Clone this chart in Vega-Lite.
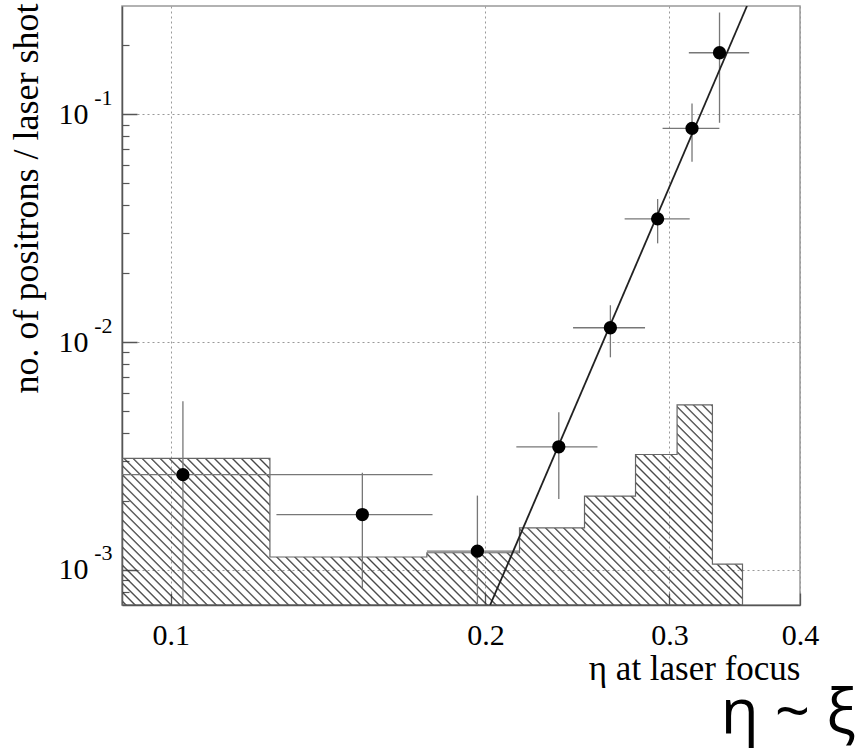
{
"$schema":"https://vega.github.io/schema/vega-lite/v6.json",
"width":678,"height":599,
"autosize":{"type":"none"},
"padding":{"left":122,"top":6,"right":56,"bottom":146},
"background":"white",
"title":{"text":"η ~ ξ","orient":"bottom","anchor":"end","font":"Open Sans","fontSize":62,"fontWeight":"normal","color":"#000","dx":37,"offset":-2},
"config":{"view":{"stroke":"#999","strokeWidth":1.5},"axis":{"labelColor":"#000","titleColor":"#000","titleFontWeight":"normal"}},
"datasets":{
"hist":[{"x":0.0898,"h":0.00309},{"x":0.1244,"h":0.00114},{"x":0.1758,"h":0.00119},{"x":0.2156,"h":0.00153},{"x":0.2488,"h":0.00211},{"x":0.2784,"h":0.00321},{"x":0.3051,"h":0.0053},{"x":0.3298,"h":0.00106},{"x":0.3524,"h":0.00106}],
"pts":[
{"x":0.1027,"y":0.00262,"xlo":0.085,"xhi":0.178,"ylo":0.0006,"yhi":0.0055},
{"x":0.1525,"y":0.00175,"xlo":0.1262,"xhi":0.178,"ylo":0.00083,"yhi":0.00267},
{"x":0.1965,"y":0.00121,"xlo":0.1758,"xhi":0.2156,"ylo":0.0006,"yhi":0.00212},
{"x":0.2351,"y":0.00347,"xlo":0.2141,"xhi":0.256,"ylo":0.00205,"yhi":0.00492},
{"x":0.2634,"y":0.01155,"xlo":0.2426,"xhi":0.2843,"ylo":0.00857,"yhi":0.0145},
{"x":0.2923,"y":0.0347,"xlo":0.2718,"xhi":0.3137,"ylo":0.0271,"yhi":0.0424},
{"x":0.3153,"y":0.0866,"xlo":0.2955,"xhi":0.3349,"ylo":0.0618,"yhi":0.1114},
{"x":0.335,"y":0.1858,"xlo":0.3131,"xhi":0.3576,"ylo":0.0916,"yhi":0.279}],
"fit":[{"x":0.2021,"y":0.000702},{"x":0.3559,"y":0.298}]
},
"resolve":{"axis":{"y":"independent","x":"independent"}},
"layer":[
{"data":{"name":"hist"},
"mark":{"type":"area","interpolate":"step-after","clip":true,"stroke":"#666","strokeWidth":1.2,
"fill":{"gradient":"linear","x1":0,"y1":1,"x2":1.198,"y2":0.6138,"stops":[
{"offset":0.003,"color":"transparent"},{"offset":0.005,"color":"#444"},{"offset":0.007,"color":"transparent"},
{"offset":0.014,"color":"transparent"},{"offset":0.016,"color":"#444"},{"offset":0.018,"color":"transparent"},
{"offset":0.025,"color":"transparent"},{"offset":0.027,"color":"#444"},{"offset":0.029,"color":"transparent"},
{"offset":0.036,"color":"transparent"},{"offset":0.038,"color":"#444"},{"offset":0.040,"color":"transparent"},
{"offset":0.047,"color":"transparent"},{"offset":0.049,"color":"#444"},{"offset":0.051,"color":"transparent"},
{"offset":0.058,"color":"transparent"},{"offset":0.060,"color":"#444"},{"offset":0.062,"color":"transparent"},
{"offset":0.069,"color":"transparent"},{"offset":0.071,"color":"#444"},{"offset":0.073,"color":"transparent"},
{"offset":0.080,"color":"transparent"},{"offset":0.082,"color":"#444"},{"offset":0.084,"color":"transparent"},
{"offset":0.091,"color":"transparent"},{"offset":0.093,"color":"#444"},{"offset":0.095,"color":"transparent"},
{"offset":0.102,"color":"transparent"},{"offset":0.104,"color":"#444"},{"offset":0.106,"color":"transparent"},
{"offset":0.113,"color":"transparent"},{"offset":0.115,"color":"#444"},{"offset":0.117,"color":"transparent"},
{"offset":0.124,"color":"transparent"},{"offset":0.126,"color":"#444"},{"offset":0.128,"color":"transparent"},
{"offset":0.135,"color":"transparent"},{"offset":0.137,"color":"#444"},{"offset":0.139,"color":"transparent"},
{"offset":0.146,"color":"transparent"},{"offset":0.148,"color":"#444"},{"offset":0.150,"color":"transparent"},
{"offset":0.157,"color":"transparent"},{"offset":0.159,"color":"#444"},{"offset":0.161,"color":"transparent"},
{"offset":0.168,"color":"transparent"},{"offset":0.170,"color":"#444"},{"offset":0.172,"color":"transparent"},
{"offset":0.179,"color":"transparent"},{"offset":0.181,"color":"#444"},{"offset":0.183,"color":"transparent"},
{"offset":0.190,"color":"transparent"},{"offset":0.192,"color":"#444"},{"offset":0.194,"color":"transparent"},
{"offset":0.201,"color":"transparent"},{"offset":0.203,"color":"#444"},{"offset":0.205,"color":"transparent"},
{"offset":0.212,"color":"transparent"},{"offset":0.214,"color":"#444"},{"offset":0.216,"color":"transparent"},
{"offset":0.223,"color":"transparent"},{"offset":0.225,"color":"#444"},{"offset":0.227,"color":"transparent"},
{"offset":0.234,"color":"transparent"},{"offset":0.236,"color":"#444"},{"offset":0.238,"color":"transparent"},
{"offset":0.245,"color":"transparent"},{"offset":0.247,"color":"#444"},{"offset":0.249,"color":"transparent"},
{"offset":0.256,"color":"transparent"},{"offset":0.258,"color":"#444"},{"offset":0.260,"color":"transparent"},
{"offset":0.267,"color":"transparent"},{"offset":0.269,"color":"#444"},{"offset":0.271,"color":"transparent"},
{"offset":0.278,"color":"transparent"},{"offset":0.280,"color":"#444"},{"offset":0.282,"color":"transparent"},
{"offset":0.289,"color":"transparent"},{"offset":0.291,"color":"#444"},{"offset":0.293,"color":"transparent"},
{"offset":0.300,"color":"transparent"},{"offset":0.302,"color":"#444"},{"offset":0.304,"color":"transparent"},
{"offset":0.311,"color":"transparent"},{"offset":0.313,"color":"#444"},{"offset":0.315,"color":"transparent"},
{"offset":0.322,"color":"transparent"},{"offset":0.324,"color":"#444"},{"offset":0.326,"color":"transparent"},
{"offset":0.333,"color":"transparent"},{"offset":0.335,"color":"#444"},{"offset":0.337,"color":"transparent"},
{"offset":0.344,"color":"transparent"},{"offset":0.346,"color":"#444"},{"offset":0.348,"color":"transparent"},
{"offset":0.355,"color":"transparent"},{"offset":0.357,"color":"#444"},{"offset":0.359,"color":"transparent"},
{"offset":0.366,"color":"transparent"},{"offset":0.368,"color":"#444"},{"offset":0.370,"color":"transparent"},
{"offset":0.377,"color":"transparent"},{"offset":0.379,"color":"#444"},{"offset":0.381,"color":"transparent"},
{"offset":0.388,"color":"transparent"},{"offset":0.390,"color":"#444"},{"offset":0.392,"color":"transparent"},
{"offset":0.399,"color":"transparent"},{"offset":0.401,"color":"#444"},{"offset":0.403,"color":"transparent"},
{"offset":0.410,"color":"transparent"},{"offset":0.412,"color":"#444"},{"offset":0.414,"color":"transparent"},
{"offset":0.421,"color":"transparent"},{"offset":0.423,"color":"#444"},{"offset":0.425,"color":"transparent"},
{"offset":0.432,"color":"transparent"},{"offset":0.434,"color":"#444"},{"offset":0.436,"color":"transparent"},
{"offset":0.443,"color":"transparent"},{"offset":0.445,"color":"#444"},{"offset":0.447,"color":"transparent"},
{"offset":0.454,"color":"transparent"},{"offset":0.456,"color":"#444"},{"offset":0.458,"color":"transparent"},
{"offset":0.465,"color":"transparent"},{"offset":0.467,"color":"#444"},{"offset":0.469,"color":"transparent"},
{"offset":0.476,"color":"transparent"},{"offset":0.478,"color":"#444"},{"offset":0.480,"color":"transparent"},
{"offset":0.487,"color":"transparent"},{"offset":0.489,"color":"#444"},{"offset":0.491,"color":"transparent"},
{"offset":0.498,"color":"transparent"},{"offset":0.500,"color":"#444"},{"offset":0.502,"color":"transparent"},
{"offset":0.509,"color":"transparent"},{"offset":0.511,"color":"#444"},{"offset":0.513,"color":"transparent"},
{"offset":0.520,"color":"transparent"},{"offset":0.522,"color":"#444"},{"offset":0.524,"color":"transparent"},
{"offset":0.531,"color":"transparent"},{"offset":0.533,"color":"#444"},{"offset":0.535,"color":"transparent"},
{"offset":0.542,"color":"transparent"},{"offset":0.544,"color":"#444"},{"offset":0.546,"color":"transparent"},
{"offset":0.553,"color":"transparent"},{"offset":0.555,"color":"#444"},{"offset":0.557,"color":"transparent"},
{"offset":0.564,"color":"transparent"},{"offset":0.566,"color":"#444"},{"offset":0.568,"color":"transparent"},
{"offset":0.575,"color":"transparent"},{"offset":0.577,"color":"#444"},{"offset":0.579,"color":"transparent"},
{"offset":0.586,"color":"transparent"},{"offset":0.588,"color":"#444"},{"offset":0.590,"color":"transparent"},
{"offset":0.597,"color":"transparent"},{"offset":0.599,"color":"#444"},{"offset":0.601,"color":"transparent"},
{"offset":0.608,"color":"transparent"},{"offset":0.610,"color":"#444"},{"offset":0.612,"color":"transparent"},
{"offset":0.619,"color":"transparent"},{"offset":0.621,"color":"#444"},{"offset":0.623,"color":"transparent"},
{"offset":0.630,"color":"transparent"},{"offset":0.632,"color":"#444"},{"offset":0.634,"color":"transparent"},
{"offset":0.641,"color":"transparent"},{"offset":0.643,"color":"#444"},{"offset":0.645,"color":"transparent"},
{"offset":0.652,"color":"transparent"},{"offset":0.654,"color":"#444"},{"offset":0.656,"color":"transparent"},
{"offset":0.663,"color":"transparent"},{"offset":0.665,"color":"#444"},{"offset":0.667,"color":"transparent"},
{"offset":0.674,"color":"transparent"},{"offset":0.676,"color":"#444"},{"offset":0.678,"color":"transparent"},
{"offset":0.685,"color":"transparent"},{"offset":0.687,"color":"#444"},{"offset":0.689,"color":"transparent"},
{"offset":0.696,"color":"transparent"},{"offset":0.698,"color":"#444"},{"offset":0.700,"color":"transparent"},
{"offset":0.707,"color":"transparent"},{"offset":0.709,"color":"#444"},{"offset":0.711,"color":"transparent"},
{"offset":0.718,"color":"transparent"},{"offset":0.720,"color":"#444"},{"offset":0.722,"color":"transparent"},
{"offset":0.729,"color":"transparent"},{"offset":0.731,"color":"#444"},{"offset":0.733,"color":"transparent"},
{"offset":0.740,"color":"transparent"},{"offset":0.742,"color":"#444"},{"offset":0.744,"color":"transparent"},
{"offset":0.751,"color":"transparent"},{"offset":0.753,"color":"#444"},{"offset":0.755,"color":"transparent"},
{"offset":0.762,"color":"transparent"},{"offset":0.764,"color":"#444"},{"offset":0.766,"color":"transparent"},
{"offset":0.773,"color":"transparent"},{"offset":0.775,"color":"#444"},{"offset":0.777,"color":"transparent"},
{"offset":0.784,"color":"transparent"},{"offset":0.786,"color":"#444"},{"offset":0.788,"color":"transparent"},
{"offset":0.795,"color":"transparent"},{"offset":0.797,"color":"#444"},{"offset":0.799,"color":"transparent"},
{"offset":0.806,"color":"transparent"},{"offset":0.808,"color":"#444"},{"offset":0.810,"color":"transparent"},
{"offset":0.817,"color":"transparent"},{"offset":0.819,"color":"#444"},{"offset":0.821,"color":"transparent"},
{"offset":0.828,"color":"transparent"},{"offset":0.830,"color":"#444"},{"offset":0.832,"color":"transparent"},
{"offset":0.839,"color":"transparent"},{"offset":0.841,"color":"#444"},{"offset":0.843,"color":"transparent"},
{"offset":0.850,"color":"transparent"},{"offset":0.852,"color":"#444"},{"offset":0.854,"color":"transparent"},
{"offset":0.861,"color":"transparent"},{"offset":0.863,"color":"#444"},{"offset":0.865,"color":"transparent"},
{"offset":0.872,"color":"transparent"},{"offset":0.874,"color":"#444"},{"offset":0.876,"color":"transparent"},
{"offset":0.883,"color":"transparent"},{"offset":0.885,"color":"#444"},{"offset":0.887,"color":"transparent"},
{"offset":0.894,"color":"transparent"},{"offset":0.896,"color":"#444"},{"offset":0.898,"color":"transparent"},
{"offset":0.905,"color":"transparent"},{"offset":0.907,"color":"#444"},{"offset":0.909,"color":"transparent"},
{"offset":0.916,"color":"transparent"},{"offset":0.918,"color":"#444"},{"offset":0.920,"color":"transparent"},
{"offset":0.927,"color":"transparent"},{"offset":0.929,"color":"#444"},{"offset":0.931,"color":"transparent"},
{"offset":0.938,"color":"transparent"},{"offset":0.940,"color":"#444"},{"offset":0.942,"color":"transparent"},
{"offset":0.949,"color":"transparent"},{"offset":0.951,"color":"#444"},{"offset":0.953,"color":"transparent"},
{"offset":0.960,"color":"transparent"},{"offset":0.962,"color":"#444"},{"offset":0.964,"color":"transparent"},
{"offset":0.971,"color":"transparent"},{"offset":0.973,"color":"#444"},{"offset":0.975,"color":"transparent"},
{"offset":0.982,"color":"transparent"},{"offset":0.984,"color":"#444"},{"offset":0.986,"color":"transparent"},
{"offset":0.993,"color":"transparent"},{"offset":0.995,"color":"#444"},{"offset":0.997,"color":"transparent"}
]}},
"encoding":{
"x":{"field":"x","type":"quantitative","scale":{"type":"log","domain":[0.0898,0.4],"nice":false},
"axis":{"orient":"bottom","values":[0.1,0.2,0.3,0.4],"format":".1f","ticks":false,"domainColor":"#555","domainWidth":1.5,
"grid":true,"gridColor":"#999","gridDash":[2,3],"gridWidth":1,
"labelFont":"Liberation Serif","labelFontSize":30,"labelBaseline":"alphabetic","labelPadding":39,"labelFlush":false,"labelOverlap":false,"labelBound":false,
"title":"η at laser focus","titleFont":"Liberation Serif","titleFontSize":35,"titleAnchor":"end","titleAlign":"right","titleX":678,"titleY":74,"titleBaseline":"alphabetic"}},
"y":{"field":"h","type":"quantitative","scale":{"type":"log","domain":[0.000702,0.298],"nice":false},
"axis":{"orient":"left","values":[0.001,0.01,0.1],"ticks":false,"domainColor":"#555","domainWidth":1.5,
"grid":true,"gridColor":"#999","gridDash":[2,3],"gridWidth":1,
"labelExpr":"'' + round(log(datum.value)/LN10)","labelFont":"Liberation Serif","labelFontSize":22,"labelPadding":10,"labelOffset":-17,
"labelOverlap":false,"labelBound":false,"labelFlush":false,
"title":"no. of positrons / laser shot","titleFont":"Liberation Serif","titleFontSize":36,"titleAngle":-90,"titleAnchor":"end","titleAlign":"right","titleX":-85,"titleY":-3,"titleBaseline":"alphabetic"}},
"y2":{"datum":0.000702}
}},
{"data":{"name":"pts"},
"mark":{"type":"rule","color":"#777","strokeWidth":1.3,"clip":true},
"encoding":{
"x":{"field":"xlo","type":"quantitative","axis":{"orient":"top","offset":-599,"values":[0.1,0.2,0.3,0.4],"tickSize":12,"tickColor":"#555","tickWidth":1.3,"labels":false,"domain":false,"grid":false,"title":null}},
"x2":{"field":"xhi"},
"y":{"field":"y","type":"quantitative","axis":{"orient":"left","values":[0.001,0.01,0.1],"ticks":false,"domain":false,"grid":false,
"labelExpr":"'10'","labelFont":"Liberation Serif","labelFontSize":30,"labelPadding":34,"labelOverlap":false,"labelBound":false,"labelFlush":false,"title":null}}
}},
{"data":{"name":"pts"},
"mark":{"type":"rule","color":"#777","strokeWidth":1.3,"clip":true},
"encoding":{
"x":{"field":"x","type":"quantitative","axis":null},
"y":{"field":"ylo","type":"quantitative","axis":{"orient":"right","offset":-678,"values":[0.001,0.01,0.1],"tickSize":15,"tickColor":"#555","tickWidth":1.5,"labels":false,"domain":false,"grid":false,"title":null}},
"y2":{"field":"yhi"}
}},
{"data":{"name":"fit"},
"mark":{"type":"line","color":"#222","strokeWidth":1.8,"clip":true},
"encoding":{
"x":{"field":"x","type":"quantitative","axis":null},
"y":{"field":"y","type":"quantitative","axis":{"orient":"right","offset":-678,"values":[0.0008,0.0009,0.002,0.003,0.004,0.005,0.006,0.007,0.008,0.009,0.02,0.03,0.04,0.05,0.06,0.07,0.08,0.09,0.2],
"tickSize":7,"tickColor":"#555","tickWidth":1.2,"labels":false,"domain":false,"grid":false,"title":null}}
}},
{"data":{"name":"pts"},
"mark":{"type":"point","filled":true,"color":"#000","size":177,"opacity":1},
"encoding":{
"x":{"field":"x","type":"quantitative","axis":null},
"y":{"field":"y","type":"quantitative","axis":null}
}}
]
}
